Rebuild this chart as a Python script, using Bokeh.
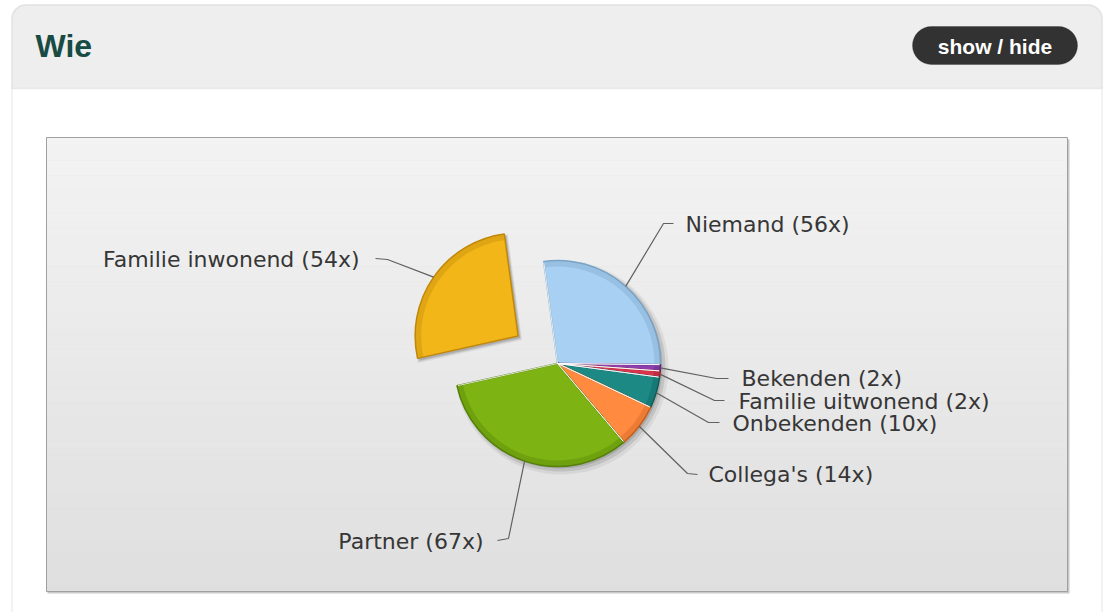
import math
from bokeh.plotting import figure
from bokeh.models import BoxAnnotation, Range1d
from bokeh.core.properties import value
from bokeh.embed import file_html
from bokeh.resources import INLINE

# ---------------- data ----------------
categories = ["Niemand", "Bekenden", "Familie uitwonend", "Onbekenden",
              "Collega's", "Partner", "Familie inwonend"]
counts = [56, 2, 2, 10, 14, 67, 54]
colors = ["#a8d0f3", "#8d3fae", "#d8354d", "#1c8985", "#ff8a40", "#7db313", "#f2b619"]
edge_colors = ["#7aa3c6", "#5e2477", "#9c1e30", "#0f5b58", "#c85f1c", "#55800a", "#c0870a"]
exploded = [False, False, False, False, False, False, True]
title_text = "Wie"
button_text = "show / hide"

# ---------------- layout helpers (page pixels -> data) ----------------
W, H = 1104, 612
def X(px):
    return px
def Y(py):
    return H - py

# label anchors (page px): x, text middle y, align, elbow point, end point
label_layout = {
    "Niemand":           (685, 224, "left",  (663, 223), (673, 223)),
    "Bekenden":          (741, 378, "left",  (716, 378), (728, 378)),
    "Familie uitwonend": (738, 401, "left",  (714, 400), (724, 400)),
    "Onbekenden":        (732, 423, "left",  (708, 422), (719, 422)),
    "Collega's":         (708, 474, "left",  (687, 473), (697, 474)),
    "Partner":           (483, 541, "right", (508, 538), (497, 540)),
    "Familie inwonend":  (359, 259, "right", (387, 259), (375, 258)),
}

p = figure(width=W, height=H, x_range=Range1d(0, W), y_range=Range1d(0, H),
           output_backend="svg", toolbar_location=None, min_border=0,
           x_axis_type=None, y_axis_type=None)
p.grid.visible = False
p.outline_line_color = None
p.background_fill_color = "white"
p.border_fill_color = "white"

# ---------------- panel ----------------
panel = BoxAnnotation(left=X(11.5), right=X(1101.5), top=Y(4.5), bottom=-20,
                      fill_color="white", fill_alpha=1, line_color="#c8c8c8",
                      line_width=1.5, border_radius=14, level="underlay")
header = BoxAnnotation(left=X(11.5), right=X(1101.5), top=Y(4.5), bottom=Y(88),
                       fill_color="#eeeeee", fill_alpha=1, line_color="#c8c8c8",
                       line_width=1.5, border_radius=(14, 14, 0, 0), level="underlay")
button = BoxAnnotation(left=X(912), right=X(1077), top=Y(26), bottom=Y(64),
                       fill_color="#323232", fill_alpha=1, line_color="#222222",
                       line_width=1, border_radius=19, level="underlay")
for b in (panel, header, button):
    p.add_layout(b)

# chart area shadow + gradient + border
p.quad(left=[X(47)], right=[X(1069)], top=[Y(139)], bottom=[Y(593)],
       fill_color="#b0b0b0", fill_alpha=0.7, line_color=None)
n_bands = 60
top_px, bot_px = 137, 591
c0, c1 = (0xf3, 0xf3, 0xf3), (0xdf, 0xdf, 0xdf)
lefts, rights, tops, bottoms, band_cols = [], [], [], [], []
for i in range(n_bands):
    t0 = top_px + (bot_px - top_px) * i / n_bands
    t1 = top_px + (bot_px - top_px) * (i + 1) / n_bands
    f = (i + 0.5) / n_bands
    col = tuple(int(round(a + (b - a) * f)) for a, b in zip(c0, c1))
    lefts.append(X(46)); rights.append(X(1067))
    tops.append(Y(t0)); bottoms.append(Y(t1) - 0.5)
    band_cols.append("#%02x%02x%02x" % col)
p.quad(left=lefts, right=rights, top=tops, bottom=bottoms,
       fill_color=band_cols, line_color=None)
p.quad(left=[X(46)], right=[X(1067)], top=[Y(137)], bottom=[Y(591)],
       fill_color=None, line_color="#a0a0a0", line_width=1)

# ---------------- pie ----------------
cx, cy = X(557), Y(363)
R = 103
start_deg = 97.7
explode_px = 48
total = sum(counts)

xs, ys, a0s, a1s, mids = [], [], [], [], []
cum = 0.0
for n, ex in zip(counts, exploded):
    th_s = start_deg - cum / total * 360.0
    th_e = th_s - n / total * 360.0
    mid = math.radians((th_s + th_e) / 2)
    ox = explode_px * math.cos(mid) if ex else 0.0
    oy = explode_px * math.sin(mid) if ex else 0.0
    xs.append(cx + ox); ys.append(cy + oy)
    a0s.append(math.radians(th_e)); a1s.append(math.radians(th_s))
    mids.append(mid)
    cum += n

# soft shadow
for off, extra, alpha in ((4, 4, 0.06), (3, 2, 0.10), (2, 0, 0.12)):
    p.wedge(x=[x + off for x in xs], y=[y - off for y in ys], radius=R + extra,
            start_angle=a0s, end_angle=a1s, direction="anticlock",
            fill_color="#000000", fill_alpha=alpha, line_color=None)

p.wedge(x=xs, y=ys, radius=R, start_angle=a0s, end_angle=a1s,
        direction="anticlock", fill_color=colors, line_color=edge_colors,
        line_width=1.5)
p.annular_wedge(x=xs, y=ys, inner_radius=R - 6, outer_radius=R,
                start_angle=a0s, end_angle=a1s, direction="anticlock",
                fill_color=edge_colors, fill_alpha=0.35, line_color=None)

# light separators between neighbouring slices of the closed group
sx0, sy0, sx1, sy1 = [], [], [], []
for i in range(len(counts)):
    if exploded[i]:
        continue
    for a in (a0s[i], a1s[i]):
        sx0.append(xs[i]); sy0.append(ys[i])
        sx1.append(xs[i] + (R - 1) * math.cos(a)); sy1.append(ys[i] + (R - 1) * math.sin(a))
p.segment(x0=sx0, y0=sy0, x1=sx1, y1=sy1, line_color="#ffffff", line_alpha=0.8, line_width=1)

# ---------------- connectors & labels ----------------
lx, ly, ltxt = {"left": [], "right": []}, {"left": [], "right": []}, {"left": [], "right": []}
cxs, cys = [], []
for i, cat in enumerate(categories):
    tx, tm, align, elbow, end = label_layout[cat]
    rim_x = xs[i] + R * math.cos(mids[i])
    rim_y = ys[i] + R * math.sin(mids[i])
    cxs.append([rim_x, X(elbow[0]), X(end[0])])
    cys.append([rim_y, Y(elbow[1]), Y(end[1])])
    lx[align].append(X(tx)); ly[align].append(Y(tm))
    ltxt[align].append(f"{cat} ({counts[i]}x)")

p.multi_line(xs=cxs, ys=cys, line_color="#606060", line_width=1.2)
for align in ("left", "right"):
    p.text(x=lx[align], y=ly[align], text=ltxt[align], text_align=align,
           text_baseline="middle", text_font=value("DejaVu Sans"),
           text_font_size=value("22px"), text_color="#363636")

# ---------------- header texts ----------------
p.text(x=[X(35)], y=[Y(45)], text=[title_text], text_align="left",
       text_baseline="middle", text_font=value("Liberation Sans"),
       text_font_style="bold", text_font_size=value("32px"), text_color="#174b43")
p.text(x=[X(994.5)], y=[Y(46)], text=[button_text], text_align="center",
       text_baseline="middle", text_font=value("Liberation Sans"),
       text_font_style="bold", text_font_size=value("21px"), text_color="#ffffff")

open("out.html", "w").write(file_html(p, INLINE))
